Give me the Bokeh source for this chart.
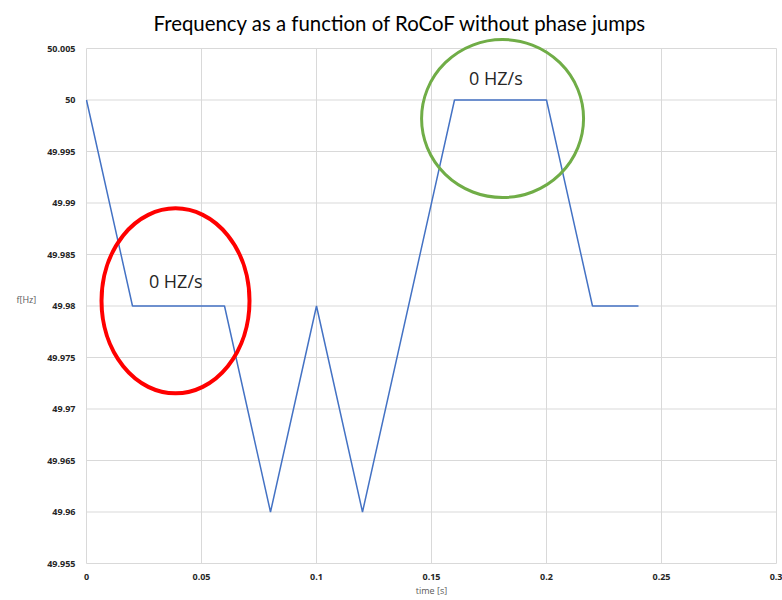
from bokeh.plotting import figure
from bokeh.models import FixedTicker, CustomJSTickFormatter, Label, Range1d
from bokeh.embed import file_html
from bokeh.resources import INLINE

# data
time_s = [0, 0.02, 0.06, 0.08, 0.1, 0.12, 0.16, 0.2, 0.22, 0.24]
freq_hz = [50, 49.98, 49.98, 49.96, 49.98, 49.96, 50, 50, 49.98, 49.98]
x_ticks = [0, 0.05, 0.1, 0.15, 0.2, 0.25, 0.3]
y_ticks = [49.955, 49.96, 49.965, 49.97, 49.975, 49.98, 49.985, 49.99, 49.995, 50, 50.005]

title_text = "Frequency as a function of RoCoF without phase jumps"
note_text = "0 HZ/s"

FONT = "Open Sans"

# pixel scales: 2300 px per s, 10300 px per Hz; small padding so edge grid lines are fully visible
x_pad = 1 / 2300
y_pad_lo = 1 / 10300
y_pad_hi = 14 / 10300

p = figure(width=782, height=600, output_backend="svg", toolbar_location=None,
           x_range=Range1d(x_ticks[0] - x_pad, x_ticks[-1] + x_pad),
           y_range=Range1d(y_ticks[0] - y_pad_lo, y_ticks[-1] + y_pad_hi),
           min_border_left=85, min_border_right=5, min_border_top=34, min_border_bottom=36)
p.outline_line_color = None
p.background_fill_color = "white"
p.border_fill_color = "white"
p.xgrid.visible = False
p.ygrid.visible = False

p.title.text = title_text
p.title.align = "left"
p.title.offset = 68
p.title.standoff = 0
p.title.text_font = "Lato"
p.title.text_font_size = "20.4px"
p.title.text_font_style = "normal"
p.title.text_color = "#000000"

fmt = CustomJSTickFormatter(code="return parseFloat(tick.toFixed(4)).toString();")
for ax, ticks in ((p.xaxis[0], x_ticks), (p.yaxis[0], y_ticks)):
    ax.ticker = FixedTicker(ticks=ticks)
    ax.formatter = fmt
    ax.axis_line_color = None
    ax.major_tick_line_color = None
    ax.minor_tick_line_color = None
    ax.major_label_text_font = FONT
    ax.major_label_text_font_size = "9px"
    ax.major_label_text_font_style = "bold"
    ax.major_label_text_color = "#262626"
    ax.axis_label_text_font = FONT
    ax.axis_label_text_font_size = "9px"
    ax.axis_label_text_font_style = "normal"
    ax.axis_label_text_color = "#595959"
    ax.major_label_standoff = 4

p.xaxis.major_label_standoff = 3
p.xaxis.axis_label = "time [s]"
p.xaxis.axis_label_standoff = 1
p.yaxis.axis_label = "f[Hz]"
p.yaxis.axis_label_orientation = "horizontal"
p.yaxis.axis_label_standoff = 8

# grid lines spanning exactly the tick extent
p.segment(x0=x_ticks, y0=[y_ticks[0]] * len(x_ticks), x1=x_ticks, y1=[y_ticks[-1]] * len(x_ticks),
          line_color="#d9d9d9", line_width=1)
p.segment(x0=[x_ticks[0]] * len(y_ticks), y0=y_ticks, x1=[x_ticks[-1]] * len(y_ticks), y1=y_ticks,
          line_color="#d9d9d9", line_width=1)

p.line(time_s, freq_hz, line_color="#4472C4", line_width=1.5)

# highlight ellipses
p.ellipse(x=[0.0387], y=[49.9805], width=148, height=185,
          width_units="screen", height_units="screen",
          fill_color=None, line_color="#FF0000", line_width=4)
p.ellipse(x=[0.1809], y=[49.9982], width=162, height=158,
          width_units="screen", height_units="screen",
          fill_color=None, line_color="#70AD47", line_width=3)

p.add_layout(Label(x=0.0388, y=49.9824, text=note_text, text_align="center",
                   text_baseline="middle", text_font=FONT,
                   text_font_size="18px", text_color="#262626"))
p.add_layout(Label(x=0.178, y=50.0021, text=note_text, text_align="center",
                   text_baseline="middle", text_font=FONT,
                   text_font_size="18px", text_color="#262626"))

open("out.html", "w").write(file_html(p, INLINE))
